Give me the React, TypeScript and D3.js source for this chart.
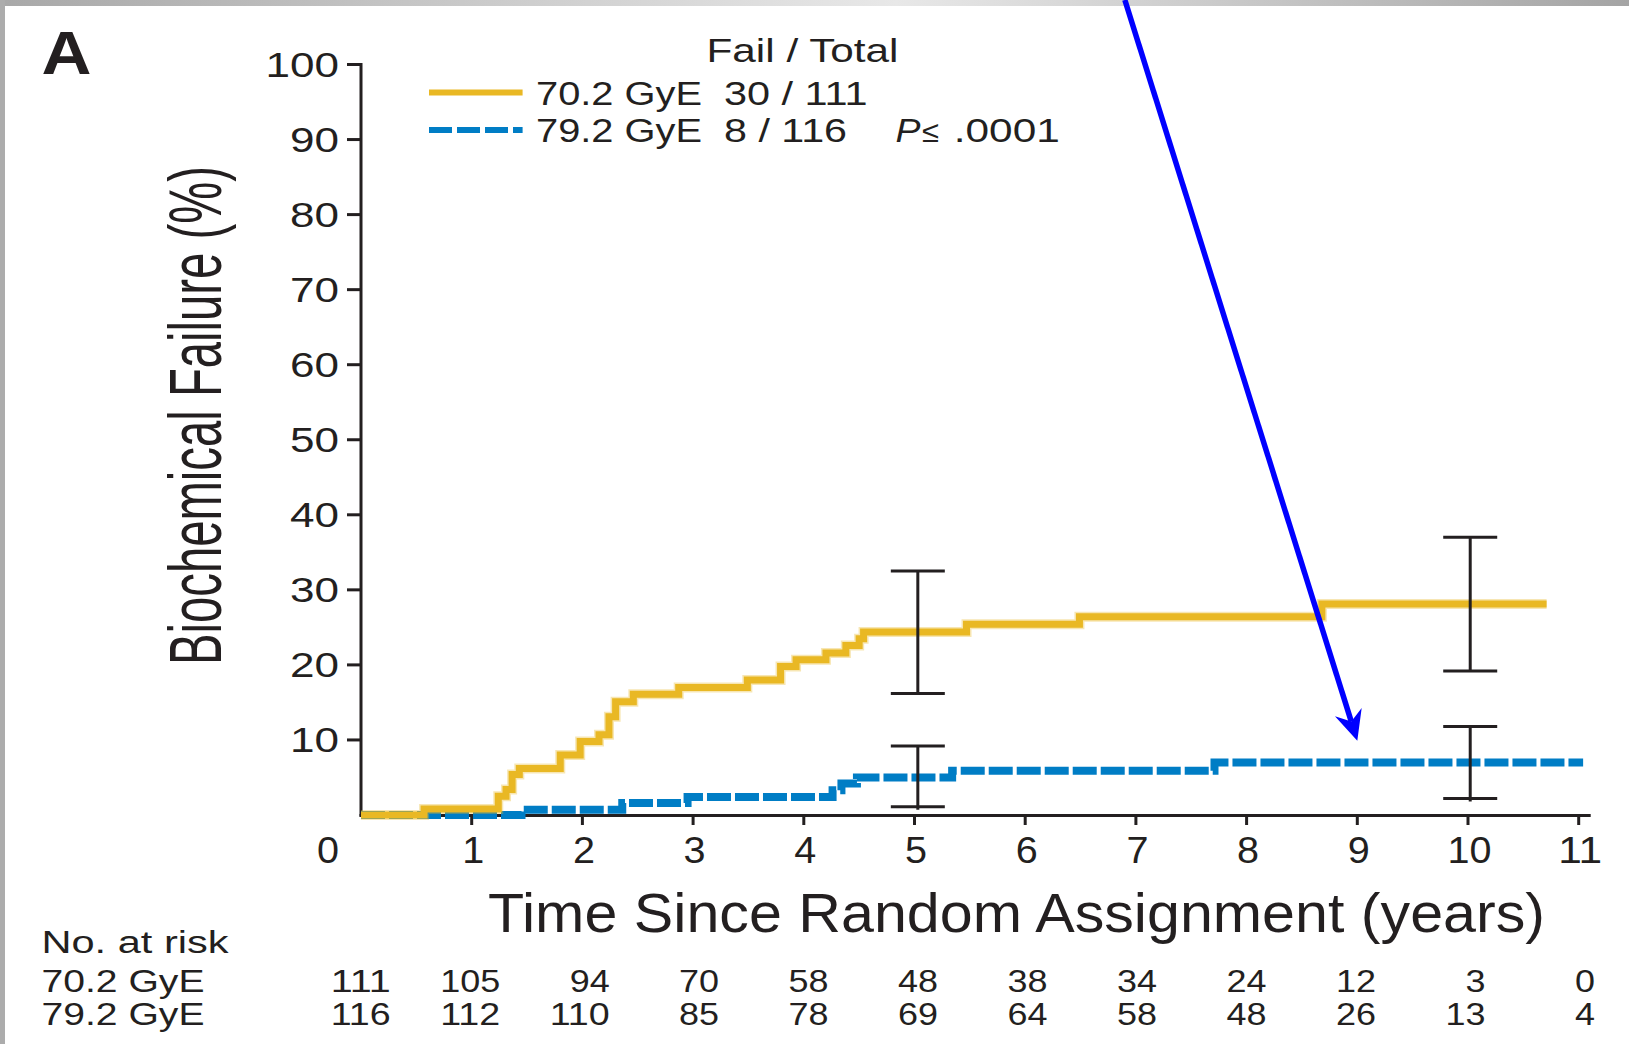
import * as d3 from "d3";

const W = 1629;
const H = 1044;

// 70.2 GyE arm (yellow, solid) - step times (years) and cumulative failure (%)
const lowTimes = [0, 0.57, 1.24, 1.31, 1.365, 1.43, 1.8, 1.98, 2.15, 2.24, 2.3, 2.46, 2.87, 3.49, 3.79, 3.93, 4.2, 4.38, 4.5, 4.54, 5.47, 6.49, 8.68, 10.71];
const lowPct = [0, 0.8, 2.5, 3.4, 5.4, 6.2, 8.0, 9.8, 10.7, 13.1, 15.1, 16.1, 17.0, 18.0, 19.8, 20.7, 21.6, 22.6, 23.5, 24.4, 25.4, 26.4, 28.1, 28.1];

// 79.2 GyE arm (blue, dashed)
const highTimes = [0, 1.45, 2.36, 2.95, 4.26, 4.34, 4.48, 5.34, 7.71, 11.04];
const highPct = [0, 0.7, 1.6, 2.4, 3.3, 4.2, 5.0, 5.9, 7.0, 7.0];

// confidence bars at ~5 and ~10 years
const ciTimes = [5.03, 10.02];
const lowCiLo = [16.2, 19.2];
const lowCiHi = [32.5, 37.0];
const highCiLo = [1.1, 2.2];
const highCiHi = [9.2, 11.8];

const yTicks = [10, 20, 30, 40, 50, 60, 70, 80, 90, 100];
const xTicks = [1, 2, 3, 4, 5, 6, 7, 8, 9, 10, 11];

// numbers at risk
const riskTimes = [0, 1, 2, 3, 4, 5, 6, 7, 8, 9, 10, 11];
const riskLow = [111, 105, 94, 70, 58, 48, 38, 34, 24, 12, 3, 0];
const riskHigh = [116, 112, 110, 85, 78, 69, 64, 58, 48, 26, 13, 4];

// annotation arrow (years, %)
const arrowFrom = [6.9, 108.6];
const arrowTo = [9.0, 9.9];

const FONT = "'Liberation Sans', Arial, sans-serif";
const INK = "#231f20";
const GOLD = "#e9b824";
const BLUE = "#007dc5";

function Txt({ x, y, w, size, anchor = "start", bold = false, italic = false, children }: any) {
  return (
    <text
      x={x}
      y={y}
      fontSize={size}
      fontFamily={FONT}
      fontWeight={bold ? "bold" : "normal"}
      fontStyle={italic ? "italic" : "normal"}
      textAnchor={anchor}
      fill={INK}
      textLength={w}
      lengthAdjust="spacingAndGlyphs"
    >
      {children}
    </text>
  );
}

export default function App() {
  const x = d3.scaleLinear([0, 11], [361, 1578.7]);
  const y = d3.scaleLinear([0, 100], [815, 64.5]);
  // risk table columns sit on a slightly tighter grid, right aligned
  const xRisk = d3.scaleLinear([0, 11], [390.7, 1594.9]);

  const step = d3
    .line<number>()
    .x((d) => x(d[0]))
    .y((d) => y(d[1]))
    .curve(d3.curveStepAfter);

  const lowPts = lowTimes.map((t, i) => [t, lowPct[i]]);
  const highPts = highTimes.map((t, i) => [t, highPct[i]]);

  // arrow geometry
  const ax0 = x(arrowFrom[0]), ay0 = y(arrowFrom[1]);
  const ax1 = x(arrowTo[0]), ay1 = y(arrowTo[1]);
  const len = Math.hypot(ax1 - ax0, ay1 - ay0);
  const ux = (ax1 - ax0) / len, uy = (ay1 - ay0) / len;
  const px = -uy, py = ux;
  const bx = ax1 - 30 * ux, by = ay1 - 30 * uy;
  const nx = ax1 - 20 * ux, ny = ay1 - 20 * uy;
  const head = [
    [ax1, ay1],
    [bx + 14 * px, by + 14 * py],
    [nx, ny],
    [bx - 14 * px, by - 14 * py],
  ];

  const capW = 27;

  return (
    <svg
      width={W}
      height={H}
      style={{ position: "absolute", left: 0, top: 0, display: "block", background: "#fff" }}
    >
      <defs>
        <linearGradient id="topbar" x1="0" x2="1" y1="0" y2="0">
          <stop offset="0" stopColor="#a8a8a8" />
          <stop offset="0.55" stopColor="#e8e8e8" />
          <stop offset="1" stopColor="#a4a4a4" />
        </linearGradient>
      </defs>
      <rect x={0} y={0} width={W} height={H} fill="#fff" />
      <rect x={0} y={0} width={W} height={6} fill="url(#topbar)" />
      <rect x={0} y={0} width={5} height={H} fill="#acacac" />

      <Txt x={41.5} y={73.5} w={50} size={61} bold>A</Txt>

      {/* y axis */}
      <line x1={x(0)} x2={x(0)} y1={y(100) - 1.5} y2={816.5} stroke={INK} strokeWidth={3} />
      {yTicks.map((t) => (
        <g key={t}>
          <line x1={x(0) - 14} x2={x(0)} y1={y(t)} y2={y(t)} stroke={INK} strokeWidth={3} />
          <Txt x={339} y={y(t) + 12.5} w={24.5 * String(t).length} size={35} anchor="end">
            {t}
          </Txt>
        </g>
      ))}

      {/* x axis */}
      <line x1={x(0) - 1.5} x2={1590.7} y1={815.5} y2={815.5} stroke={INK} strokeWidth={3} />
      {xTicks.map((t) => (
        <g key={t}>
          <line x1={x(t)} x2={x(t)} y1={815.5} y2={825} stroke={INK} strokeWidth={3} />
          <Txt x={x(t) + 1.5} y={863} w={22 * String(t).length} size={36} anchor="middle">
            {t}
          </Txt>
        </g>
      ))}
      <Txt x={x(0) - 33} y={863} w={22} size={36} anchor="middle">0</Txt>

      {/* axis titles */}
      <g transform={`translate(221,415.5) rotate(-90)`}>
        <Txt x={0} y={0} w={499} size={74} anchor="middle">Biochemical Failure (%)</Txt>
      </g>
      <Txt x={1016.5} y={932} w={1057} size={56} anchor="middle">Time Since Random Assignment (years)</Txt>

      {/* curves */}
      <path d={step(highPts as any) || ""} fill="none" stroke={BLUE} strokeWidth={8} strokeDasharray="24 4" />
      <path d={step(lowPts as any) || ""} fill="none" stroke={GOLD} strokeOpacity={0.35} strokeWidth={10} />
      <path d={step(lowPts as any) || ""} fill="none" stroke={GOLD} strokeWidth={7} />

      {/* confidence bars */}
      {ciTimes.map((t, i) => (
        <g key={t} stroke={INK} strokeWidth={3}>
          <line x1={x(t)} x2={x(t)} y1={y(lowCiHi[i])} y2={y(lowCiLo[i])} />
          <line x1={x(t) - capW} x2={x(t) + capW} y1={y(lowCiHi[i])} y2={y(lowCiHi[i])} />
          <line x1={x(t) - capW} x2={x(t) + capW} y1={y(lowCiLo[i])} y2={y(lowCiLo[i])} />
          <line x1={x(t)} x2={x(t)} y1={y(highCiHi[i])} y2={y(highCiLo[i]) + 3} />
          <line x1={x(t) - capW} x2={x(t) + capW} y1={y(highCiHi[i])} y2={y(highCiHi[i])} />
          <line x1={x(t) - capW} x2={x(t) + capW} y1={y(highCiLo[i])} y2={y(highCiLo[i])} />
        </g>
      ))}

      {/* legend */}
      <Txt x={706.5} y={62} w={192} size={34}>Fail / Total</Txt>
      <line x1={429} x2={522.6} y1={92.5} y2={92.5} stroke={GOLD} strokeWidth={6} />
      <line x1={429} x2={522.6} y1={130} y2={130} stroke={BLUE} strokeWidth={6} strokeDasharray="23 5" />
      <Txt x={536} y={105} w={166} size={34}>70.2 GyE</Txt>
      <Txt x={724} y={105} w={143.6} size={34}>30 / 111</Txt>
      <Txt x={536} y={142} w={166} size={34}>79.2 GyE</Txt>
      <Txt x={724} y={142} w={123} size={34}>8 / 116</Txt>
      <Txt x={895.6} y={142} w={25} size={34} italic>P</Txt>
      <Txt x={922} y={142} w={17} size={30}>≤</Txt>
      <Txt x={953.8} y={142} w={106} size={34}>.0001</Txt>

      {/* numbers at risk */}
      <Txt x={41.5} y={953} w={187} size={31}>No. at risk</Txt>
      <Txt x={41.5} y={992} w={163} size={31}>70.2 GyE</Txt>
      <Txt x={41.5} y={1025} w={163} size={31}>79.2 GyE</Txt>
      {riskTimes.map((t, i) => (
        <g key={t}>
          <Txt x={xRisk(t)} y={992} w={20 * String(riskLow[i]).length} size={31} anchor="end">
            {riskLow[i]}
          </Txt>
          <Txt x={xRisk(t)} y={1025} w={20 * String(riskHigh[i]).length} size={31} anchor="end">
            {riskHigh[i]}
          </Txt>
        </g>
      ))}

      {/* annotation arrow */}
      <line x1={ax0} y1={ay0} x2={nx} y2={ny} stroke="#0000ff" strokeWidth={5.5} />
      <polygon points={head.map((p) => p.join(",")).join(" ")} fill="#0000ff" />
    </svg>
  );
}
